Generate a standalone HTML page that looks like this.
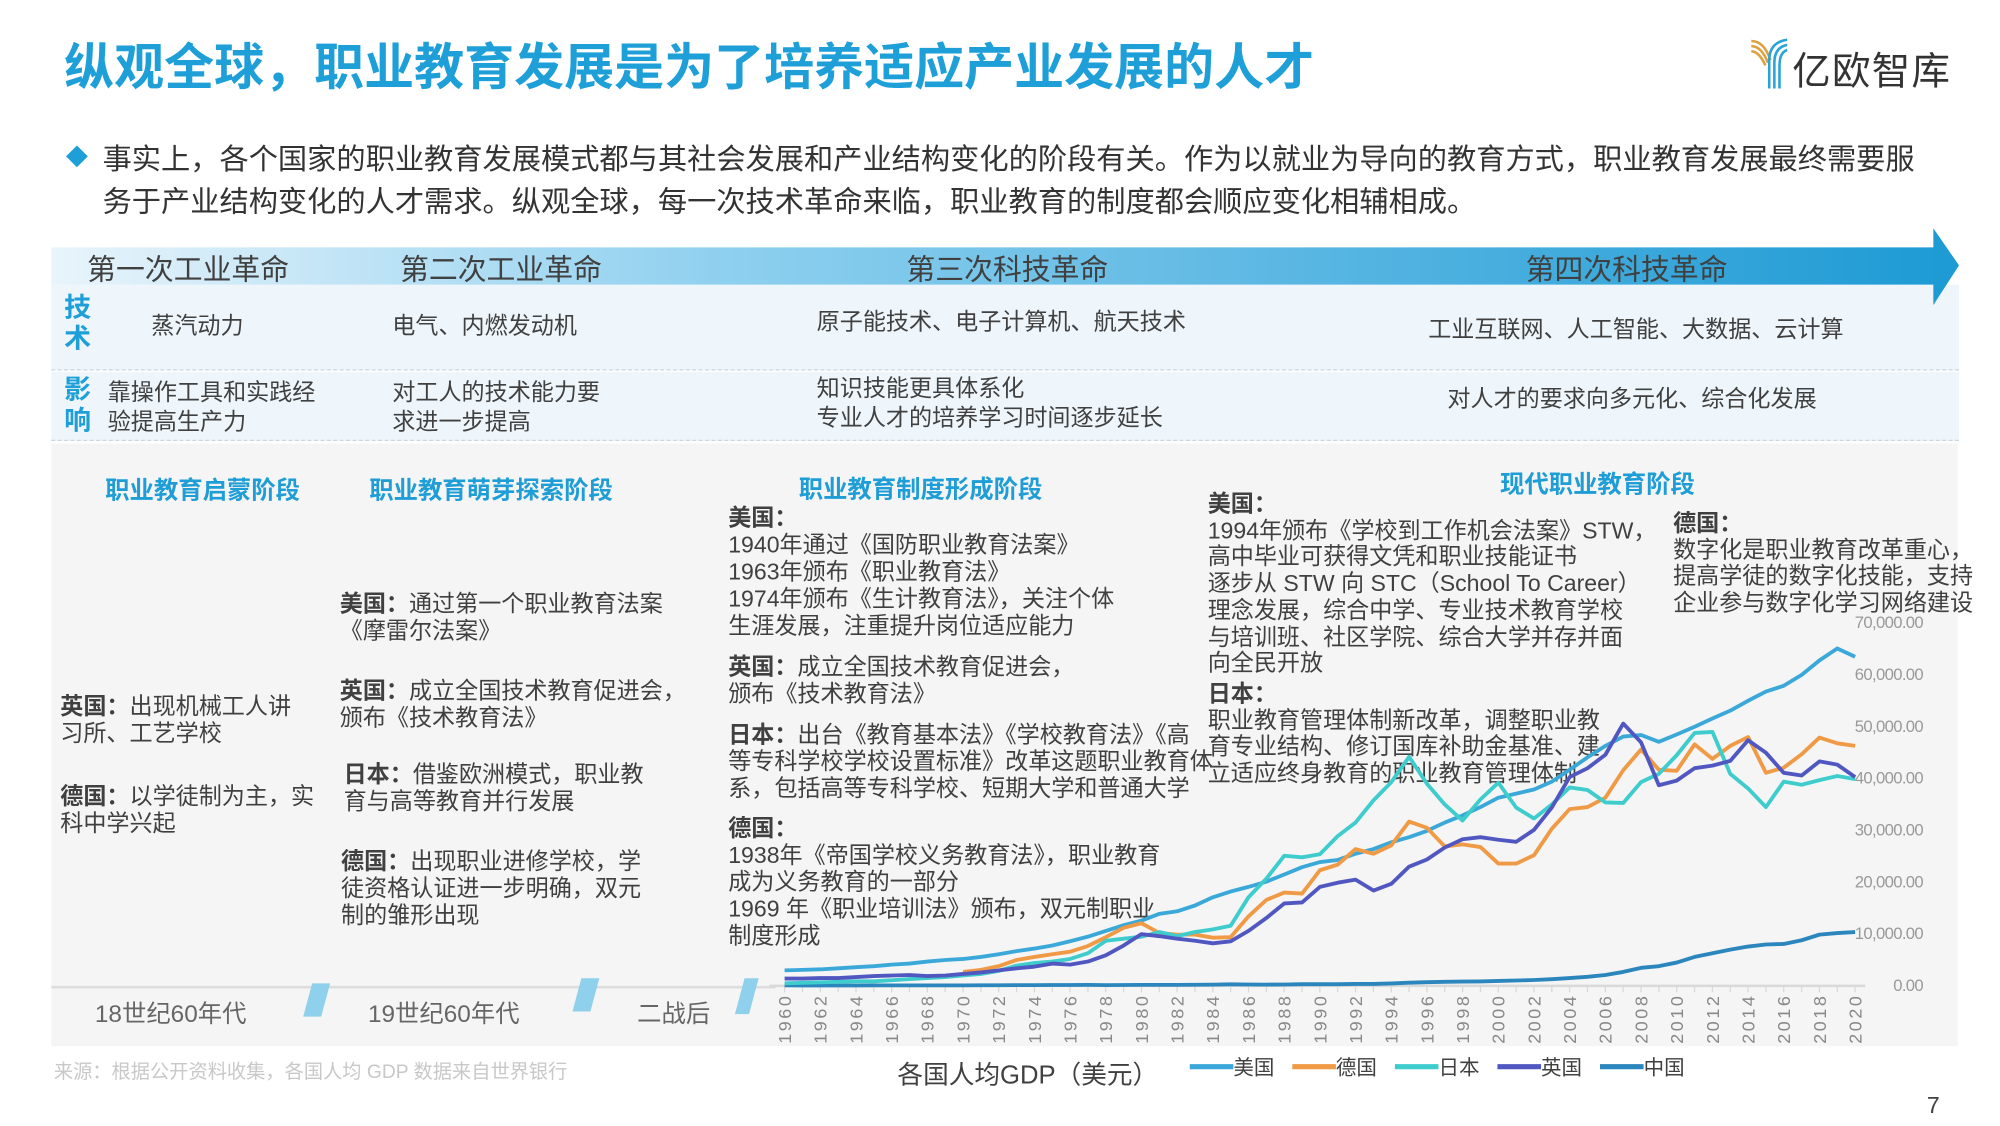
<!DOCTYPE html>
<html><head><meta charset="utf-8">
<style>
html,body{margin:0;padding:0;width:2000px;height:1125px;overflow:hidden;background:#fff;}
#wrap{position:absolute;left:0;top:0;width:1560px;height:878px;transform:scale(1.28205);transform-origin:0 0;font-family:"Liberation Sans","Noto Sans CJK SC",sans-serif;color:#404040;}
.a{position:absolute;white-space:nowrap;}
.t{font-size:18px;line-height:21px;color:#404040;}
.b{font-weight:bold;}
.ph{font-size:19px;font-weight:bold;color:#1f9dd6;}
.hd{font-size:22.5px;color:#404040;}
</style></head><body>
<div id="wrap">
<div class="a" style="left:50px;top:22px;font-size:39px;font-weight:bold;color:#1e9fd8;">纵观全球，职业教育发展是为了培养适应产业发展的人才</div>
<div class="a" style="left:1364px;top:27px;width:170px;height:44px;">
<svg width="40" height="44" viewBox="0 0 40 44"><path d="M2 5 Q12 5 17 20 M2 9 Q10 9 15 22 M2 13 Q8 13 13 24" stroke="#e0a040" stroke-width="2" fill="none"/><path d="M30 4 Q16 6 16 20 V42 M30 8 Q20 10 20 22 V42 M30 12 Q24 14 24 24 V42" stroke="#2aa3d8" stroke-width="2" fill="none"/></svg>
<span class="a" style="left:34px;top:4px;font-size:30px;color:#333;letter-spacing:1px;">亿欧智库</span></div>
<div class="a" style="left:54px;top:116px;width:12px;height:12px;background:#1e9fd8;transform:rotate(45deg);"></div>
<div class="a" style="left:80px;top:108px;font-size:22.8px;line-height:33px;color:#333;">事实上，各个国家的职业教育发展模式都与其社会发展和产业结构变化的阶段有关。作为以就业为导向的教育方式，职业教育发展最终需要服<br>务于产业结构变化的人才需求。纵观全球，每一次技术革命来临，职业教育的制度都会顺应变化相辅相成。</div>

<div class="a" style="left:40px;top:222px;width:1488px;height:66px;background:#eef6fb;border-bottom:1px dashed #c8d6de;"></div>
<div class="a" style="left:40px;top:290px;width:1488px;height:53px;background:#eef6fb;border-bottom:1px dashed #c8d6de;"></div>
<svg class="a" style="left:40px;top:176px;" width="1495" height="64"><defs><linearGradient id="g" x1="0" x2="1"><stop offset="0" stop-color="#e8f4fb"/><stop offset="0.35" stop-color="#8fd0ef"/><stop offset="1" stop-color="#1d9ad4"/></linearGradient></defs><polygon points="0,17 1468,17 1468,2 1488,31 1468,62 1468,46 0,46" fill="url(#g)"/></svg>
<div class="a hd" style="left:68px;top:193px;">第一次工业革命</div>
<div class="a hd" style="left:312px;top:193px;">第二次工业革命</div>
<div class="a hd" style="left:707px;top:193px;">第三次科技革命</div>
<div class="a hd" style="left:1190px;top:193px;">第四次科技革命</div>
<div class="a" style="left:50px;top:229px;font-size:21px;line-height:24px;font-weight:bold;color:#1e9fd8;">技<br>术</div>
<div class="a t" style="left:118px;top:244px;">蒸汽动力</div>
<div class="a t" style="left:306px;top:244px;">电气、内燃发动机</div>
<div class="a t" style="left:637px;top:241px;">原子能技术、电子计算机、航天技术</div>
<div class="a t" style="left:1114px;top:247px;">工业互联网、人工智能、大数据、云计算</div>
<div class="a" style="left:50px;top:293px;font-size:21px;line-height:24px;font-weight:bold;color:#1e9fd8;">影<br>响</div>
<div class="a t" style="left:84px;top:295px;line-height:23px;">靠操作工具和实践经<br>验提高生产力</div>
<div class="a t" style="left:306px;top:295px;line-height:23px;">对工人的技术能力要<br>求进一步提高</div>
<div class="a t" style="left:637px;top:292px;line-height:23px;">知识技能更具体系化<br>专业人才的培养学习时间逐步延长</div>
<div class="a t" style="left:1129px;top:301px;">对人才的要求向多元化、综合化发展</div>

<div class="a" style="left:40px;top:346px;width:1487px;height:470px;background:#f5f5f5;"></div>
<div class="a ph" style="left:82px;top:368px;">职业教育启蒙阶段</div>
<div class="a ph" style="left:288px;top:368px;">职业教育萌芽探索阶段</div>
<div class="a ph" style="left:623px;top:367px;">职业教育制度形成阶段</div>
<div class="a ph" style="left:1170px;top:363px;">现代职业教育阶段</div>

<div class="a t" style="left:47px;top:541px;"><b>英国：</b>出现机械工人讲<br>习所、工艺学校</div>
<div class="a t" style="left:47px;top:611px;"><b>德国：</b>以学徒制为主，实<br>科中学兴起</div>
<div class="a t" style="left:265px;top:461px;"><b>美国：</b>通过第一个职业教育法案<br>《摩雷尔法案》</div>
<div class="a t" style="left:265px;top:529px;"><b>英国：</b>成立全国技术教育促进会，<br>颁布《技术教育法》</div>
<div class="a t" style="left:268px;top:594px;"><b>日本：</b>借鉴欧洲模式，职业教<br>育与高等教育并行发展</div>
<div class="a t" style="left:266px;top:662px;"><b>德国：</b>出现职业进修学校，学<br>徒资格认证进一步明确，双元<br>制的雏形出现</div>
<div class="a t" style="left:568px;top:394px;"><b>美国：</b><br>1940年通过《国防职业教育法案》<br>1963年颁布《职业教育法》<br>1974年颁布《生计教育法》，关注个体<br>生涯发展，注重提升岗位适应能力</div>
<div class="a t" style="left:568px;top:510px;"><b>英国：</b>成立全国技术教育促进会，<br>颁布《技术教育法》</div>
<div class="a t" style="left:568px;top:563px;"><b>日本：</b>出台《教育基本法》《学校教育法》《高<br>等专科学校学校设置标准》改革这题职业教育体<br>系，包括高等专科学校、短期大学和普通大学</div>
<div class="a t" style="left:568px;top:636px;"><b>德国：</b><br>1938年《帝国学校义务教育法》，职业教育<br>成为义务教育的一部分<br>1969 年《职业培训法》颁布，双元制职业<br>制度形成</div>
<div class="a t" style="left:942px;top:383px;line-height:20.7px;"><b>美国：</b><br>1994年颁布《学校到工作机会法案》STW，<br>高中毕业可获得文凭和职业技能证书<br>逐步从 STW 向 STC（School To Career）<br>理念发展，综合中学、专业技术教育学校<br>与培训班、社区学院、综合大学并存并面<br>向全民开放</div>
<div class="a t" style="left:942px;top:531px;line-height:20.7px;"><b>日本：</b><br>职业教育管理体制新改革，调整职业教<br>育专业结构、修订国库补助金基准、建<br>立适应终身教育的职业教育管理体制</div>
<div class="a t" style="left:1305px;top:398px;line-height:20.5px;"><b>德国：</b><br>数字化是职业教育改革重心，<br>提高学徒的数字化技能，支持<br>企业参与数字化学习网络建设</div>

<div class="a" style="left:40px;top:769px;width:565px;height:2px;background:#ddd;"></div>
<div class="a" style="left:74px;top:776px;font-size:19px;color:#666;">18世纪60年代</div>
<div class="a" style="left:287px;top:776px;font-size:19px;color:#666;">19世纪60年代</div>
<div class="a" style="left:497px;top:776px;font-size:19px;color:#666;">二战后</div>
<div class="a" style="left:240px;top:767px;width:14px;height:26px;background:#8fd0ec;transform:skewX(-15deg);"></div>
<div class="a" style="left:450px;top:763px;width:14px;height:26px;background:#8fd0ec;transform:skewX(-15deg);"></div>
<div class="a" style="left:577px;top:763px;width:11px;height:28px;background:#8fd0ec;transform:skewX(-15deg);"></div>

<svg class="a" id="chart" style="left:0;top:0;" width="1560" height="878"></svg>
<div class="a" style="left:700px;top:822px;font-size:20px;color:#404040;">各国人均GDP（美元）</div>
<div class="a" style="left:42px;top:825px;font-size:15px;color:#c8c8c8;">来源：根据公开资料收集，各国人均 GDP 数据来自世界银行</div>
<div class="a" style="left:1503px;top:852px;font-size:18px;color:#404040;">7</div>
</div>
<script>
const years=[];for(let y=1960;y<=2020;y++)years.push(y);
const seriesNames=["美国","德国","日本","英国","中国"];
const usa=[3.0,3.1,3.2,3.4,3.6,3.8,4.1,4.3,4.7,5.0,5.2,5.6,6.1,6.7,7.2,7.8,8.6,9.5,10.6,11.7,12.6,13.9,14.4,15.5,17.1,18.2,19.1,20.1,21.5,22.9,23.9,24.3,25.5,26.4,27.7,28.7,29.9,31.5,32.9,34.5,36.3,37.1,37.9,39.4,41.7,44.1,46.3,48.1,48.4,47.1,48.5,50.0,51.6,53.1,55.0,56.8,57.9,60.0,62.8,65.1,63.5];
const germany=[null,null,null,null,null,null,null,null,null,null,2.7,3.1,3.8,5.0,5.6,6.1,6.6,7.7,9.4,11.2,12.1,10.2,9.9,9.9,9.3,9.4,13.4,16.6,18.0,17.8,22.3,23.4,26.4,25.5,27.1,31.7,30.5,26.9,27.3,26.8,23.6,23.6,25.2,30.3,34.1,34.5,36.3,41.6,45.6,41.7,41.5,46.6,43.8,46.3,48.0,41.1,42.1,44.7,47.9,46.8,46.3];
const japan=[0.5,0.6,0.7,0.8,0.9,0.9,1.1,1.3,1.5,1.7,2.0,2.3,2.9,3.9,4.4,4.7,5.2,6.3,8.7,9.1,9.5,10.4,9.6,10.4,10.9,11.6,17.1,20.7,25.1,24.8,25.4,28.9,31.5,35.8,39.3,44.2,39.0,35.0,31.9,36.0,39.2,34.4,32.3,35.0,38.3,37.8,35.4,35.3,39.3,40.9,44.5,48.8,49.0,40.9,38.1,34.5,39.4,38.8,39.7,40.5,39.9];
const uk=[1.4,1.4,1.5,1.5,1.7,1.9,2.0,2.1,1.9,2.0,2.3,2.6,3.0,3.4,3.7,4.3,4.1,4.7,5.9,7.8,10.0,9.6,9.1,8.7,8.2,8.6,10.6,13.1,15.9,16.1,19.1,19.9,20.5,18.4,19.7,23.0,24.4,26.7,28.3,28.7,28.2,27.8,30.1,34.4,40.3,42.0,44.6,50.6,47.0,38.7,39.6,42.0,42.5,43.4,47.4,45.0,41.1,40.6,43.3,42.7,40.3];
const china=[0.09,0.08,0.07,0.07,0.08,0.1,0.1,0.09,0.09,0.1,0.11,0.12,0.13,0.16,0.16,0.18,0.17,0.19,0.16,0.18,0.19,0.2,0.2,0.22,0.25,0.29,0.28,0.25,0.28,0.31,0.32,0.33,0.37,0.38,0.47,0.61,0.71,0.78,0.83,0.87,0.96,1.05,1.15,1.29,1.51,1.75,2.1,2.7,3.5,3.8,4.5,5.6,6.3,7.0,7.6,8.0,8.1,8.8,9.9,10.2,10.4];
const colors=["#3aa8d8","#f09a46","#3fcccc","#5057c0","#2a86bd"];
const yTicks=[0,10,20,30,40,50,60,70];
const yTickLabels=["0.00","10,000.00","20,000.00","30,000.00","40,000.00","50,000.00","60,000.00","70,000.00"];
const NS="http://www.w3.org/2000/svg";
const svg=document.getElementById('chart');
const X=y=>612+(y-1960)*(1447-612)/60;
const Y=v=>769-v*(769-486)/70;
function mk(t,a){const e=document.createElementNS(NS,t);for(const k in a)e.setAttribute(k,a[k]);svg.appendChild(e);return e;}
const ax=mk('line',{x1:600,x2:1455,y1:Y(0),y2:Y(0),stroke:'#d9d9d9','stroke-width':2});


years.forEach((yr,i)=>{
  const tk=mk('line',{x1:X(yr),x2:X(yr),y1:Y(0),y2:Y(0)+5,stroke:'#d9d9d9','stroke-width':1});
  
  
  if(i%2===0){
    const t=mk('text',{x:X(yr)+5,y:775,transform:`rotate(-90 ${X(yr)+5} 775)`,'text-anchor':'end','font-size':14,fill:'#888','letter-spacing':'2','font-family':'Liberation Sans, sans-serif'});
    t.textContent=yr;
    
    
  }
});
yTicks.forEach((v,i)=>{
  const t=mk('text',{x:1500,y:Y(v)+4,'text-anchor':'end','font-size':13,fill:'#999','font-family':'Liberation Sans, sans-serif','letter-spacing':'-0.5'});
  t.textContent=yTickLabels[i];
  
  
});
const all=[usa,germany,japan,uk,china];
const order=[4,0,1,2,3];
order.forEach(si=>{
  const d=all[si];let p='';let pen=false;
  d.forEach((v,i)=>{if(v===null){pen=false;return;}p+=(pen?'L':'M')+X(years[i]).toFixed(1)+' '+Y(v).toFixed(1)+' ';pen=true;});
  const l=mk('path',{d:p,fill:'none',stroke:colors[si],'stroke-width':3,'stroke-linejoin':'round'});
  
  
});
const lx=[928,1008,1088,1168,1248];
seriesNames.forEach((n,i)=>{
  const ln=mk('line',{x1:lx[i],x2:lx[i]+34,y1:832,y2:832,stroke:colors[i],'stroke-width':4});
  
  
  const t=mk('text',{x:lx[i]+34,y:838,'font-size':16,fill:'#404040','font-family':'Liberation Sans, Noto Sans CJK SC, sans-serif'});
  t.textContent=n;
  
  
});
</script>
</body></html>
